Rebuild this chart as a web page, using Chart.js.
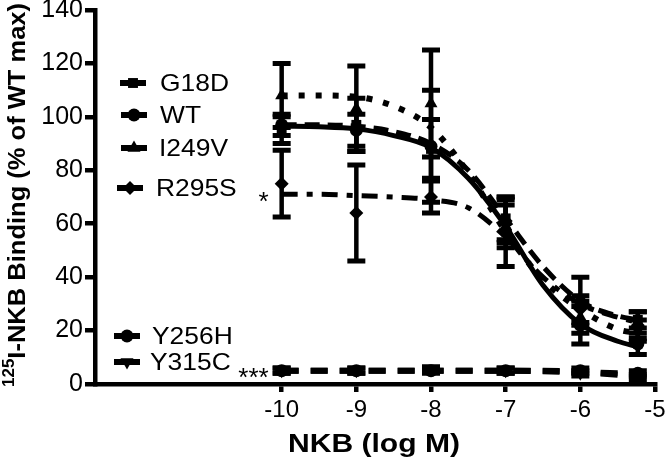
<!DOCTYPE html>
<html>
<head>
<meta charset="utf-8">
<script src="https://cdn.jsdelivr.net/npm/chart.js@4.4.1/dist/chart.umd.min.js"></script>
<style>
  html, body { margin: 0; padding: 0; background: #fff; }
  #wrap { width: 666px; height: 462px; position: relative; }
</style>
</head>
<body>
<div id="wrap"><canvas id="binding"></canvas></div>
<script>
// measured points (log M) and % of WT max, with SEM
const doses = [-10, -9, -8, -7, -6, -5.23];
const g18d = [95, 97, 88, 62, 31, 24];
const g18dErr = [5, 10, 11, 8, 9, 3];
const wt = [97, 95, 89, 57, 22, 15];
const wtErr = [4, 6, 21, 13, 7, 4];
const i249v = [108, 103, 105, 59, 25, 20];
const i249vErr = [12, 16, 20, 8, 6, 4];
const r295s = [75, 64, 70, 61, 28, 22];
const r295sErr = [12.5, 18, 6, 8, 5, 5];
const y256h = [5, 5, 5, 5, 5, 4];
const y256hErr = [1, 1, 1, 1, 1, 1];
const y315c = [5, 5, 5.5, 5, 4, 2.5];
const y315cErr = [1, 1, 1, 1, 1, 1];

// fitted curves at half-log steps
const fitDoses = [-10, -9.5, -9, -8.5, -8, -7.5, -7, -6.5, -6, -5.5, -5.23];
const g18dFit = [97, 97, 96.5, 94.5, 90, 80, 62, 44, 31, 25.5, 24];
const wtFit = [96.5, 96.3, 95.5, 93, 88.5, 77, 59, 37, 22.5, 16, 14];
const i249vFit = [108, 108, 107.5, 104, 96, 79, 57, 39, 28, 20.5, 19];
const r295sFit = [71, 71, 70.5, 70, 69, 66, 55, 40, 30, 25, 23];
const y256hFit = [5, 5, 5, 5, 5, 5, 5, 5, 4.5, 4, 3.5];
const y315cFit = [5, 5, 5, 5, 5, 5, 5, 4.8, 4.3, 3.5, 3];

const xTicks = [-10, -9, -8, -7, -6, -5];

const FONT = "'Liberation Sans', Arial, Helvetica, sans-serif";

const series = [
  { name: 'G18D', pts: g18d, err: g18dErr, fit: g18dFit, style: 'rect', radius: 7, rot: 0, dash: [15, 8], lw: 5 },
  { name: 'WT', pts: wt, err: wtErr, fit: wtFit, style: 'circle', radius: 6.5, rot: 0, dash: [], lw: 5 },
  { name: 'I249V', pts: i249v, err: i249vErr, fit: i249vFit, style: 'triangle', radius: 7.5, rot: 0, dash: [6, 11], lw: 6 },
  { name: 'R295S', pts: r295s, err: r295sErr, fit: r295sFit, style: 'rectRot', radius: 7, rot: 0, dash: [16, 9, 6, 9], lw: 5 },
  { name: 'Y256H', pts: y256h, err: y256hErr, fit: y256hFit, style: 'circle', radius: 6.5, rot: 0, dash: [17, 12], lw: 6 },
  { name: 'Y315C', pts: y315c, err: y315cErr, fit: y315cFit, style: 'triangle', radius: 7.5, rot: 180, dash: [17, 12], lw: 6 }
];

// legend placement inside the plot (pixels)
const legendPos = [
  { mx: 133, y: 83, tx: 160 },
  { mx: 134, y: 115, tx: 160 },
  { mx: 134, y: 148, tx: 159 },
  { mx: 130, y: 188, tx: 156 },
  { mx: 127, y: 336, tx: 152 },
  { mx: 127, y: 362, tx: 150 }
];

const datasets = [];
series.forEach(s => {
  datasets.push({
    type: 'line',
    label: s.name + ' fit',
    data: fitDoses.map((x, i) => ({ x: x, y: s.fit[i] })),
    borderColor: '#000',
    borderWidth: s.lw,
    borderDash: s.dash,
    pointRadius: 0,
    fill: false,
    cubicInterpolationMode: 'monotone',
    clip: false
  });
});
series.forEach(s => {
  datasets.push({
    type: 'scatter',
    label: s.name,
    data: doses.map((x, i) => ({ x: x, y: s.pts[i] })),
    err: s.err,
    showLine: false,
    pointStyle: s.style,
    pointRotation: s.rot,
    pointRadius: s.radius,
    backgroundColor: '#000',
    borderColor: '#000',
    borderWidth: 0,
    clip: false
  });
});

// draw text stretched to a given width
function fitText(ctx, text, x, y, width) {
  const w = ctx.measureText(text).width;
  ctx.save();
  ctx.translate(x, y);
  ctx.scale(width ? width / w : 1, 1);
  ctx.fillText(text, 0, 0);
  ctx.restore();
}

const errorBars = {
  id: 'errorBars',
  beforeDatasetsDraw(chart) {
    const ctx = chart.ctx, xs = chart.scales.x, ys = chart.scales.y;
    ctx.save();
    ctx.strokeStyle = '#000';
    chart.data.datasets.forEach(ds => {
      if (!ds.err) return;
      ds.data.forEach((p, i) => {
        const e = ds.err[i];
        const x = xs.getPixelForValue(p.x);
        const y1 = ys.getPixelForValue(p.y - e);
        const y2 = ys.getPixelForValue(p.y + e);
        ctx.lineWidth = 4.5;
        ctx.beginPath();
        ctx.moveTo(x, y1); ctx.lineTo(x, y2);
        ctx.stroke();
        ctx.lineWidth = 5;
        ctx.beginPath();
        ctx.moveTo(x - 9, y1); ctx.lineTo(x + 9, y1);
        ctx.moveTo(x - 9, y2); ctx.lineTo(x + 9, y2);
        ctx.stroke();
      });
    });
    ctx.restore();
  }
};

const decorations = {
  id: 'decorations',
  afterDraw(chart) {
    const ctx = chart.ctx, xs = chart.scales.x, ys = chart.scales.y;
    ctx.save();
    ctx.fillStyle = '#000';
    ctx.strokeStyle = '#000';

    // legend
    series.forEach((s, i) => {
      const lp = legendPos[i];
      ctx.lineWidth = 6;
      ctx.setLineDash([]);
      ctx.beginPath();
      ctx.moveTo(lp.mx - 13, lp.y); ctx.lineTo(lp.mx + 13, lp.y);
      ctx.stroke();
      Chart.helpers.drawPoint(ctx, { pointStyle: s.style, radius: s.radius, rotation: s.rot, borderWidth: 0 }, lp.mx, lp.y);
      ctx.font = '24px ' + FONT;
      ctx.textBaseline = 'middle';
      ctx.textAlign = 'left';
      const w = ctx.measureText(s.name).width * 1.1;
      fitText(ctx, s.name, lp.tx, lp.y + 1, w);
    });

    // significance marks
    ctx.font = '26px ' + FONT;
    ctx.textAlign = 'right';
    ctx.textBaseline = 'middle';
    const x0 = xs.getPixelForValue(doses[0]) - 13;
    ctx.fillText('*', x0, ys.getPixelForValue(r295sFit[0]) + 8);
    ctx.fillText('***', x0, ys.getPixelForValue(y315cFit[0]) + 8);

    // y axis title with superscript
    ctx.translate(16, 195);
    ctx.rotate(-Math.PI / 2);
    ctx.textAlign = 'left';
    ctx.textBaseline = 'middle';
    const big = 'bold 24px ' + FONT, small = 'bold 16px ' + FONT;
    ctx.font = small;
    const wSup = ctx.measureText('125').width;
    ctx.font = big;
    const rest = 'I-NKB Binding (% of WT max)';
    const wRest = ctx.measureText(rest).width;
    const k = 384 / (wSup + wRest);
    ctx.scale(k, 1);
    const start = -(wSup + wRest) / 2;
    ctx.font = small;
    ctx.fillText('125', start, -6);
    ctx.font = big;
    ctx.fillText(rest, start + wSup, 2);
    ctx.restore();

    // x axis title
    ctx.save();
    ctx.font = 'bold 26px ' + FONT;
    ctx.textAlign = 'left';
    ctx.textBaseline = 'alphabetic';
    fitText(ctx, 'NKB (log M)', 288, 452, 172);
    ctx.restore();
  }
};

Chart.defaults.font.family = FONT;
Chart.defaults.color = '#000';

new Chart(document.getElementById('binding'), {
  type: 'scatter',
  data: { datasets: datasets },
  options: {
    responsive: true,
    maintainAspectRatio: false,
    animation: false,
    layout: { padding: { top: 10, right: 11, left: 0, bottom: 0 } },
    plugins: { legend: { display: false }, tooltip: { enabled: false } },
    scales: {
      x: {
        type: 'linear',
        min: -12.5,
        max: -5,
        afterBuildTicks: s => { s.ticks = xTicks.map(v => ({ value: v })); },
        afterFit: s => { s.height = 78; s.paddingLeft = 0; s.paddingRight = 0; },
        border: { display: true, color: '#000', width: 4.5 },
        grid: { display: true, drawOnChartArea: false, drawTicks: true, tickLength: 8, lineWidth: 4.5, color: '#000' },
        ticks: { font: { size: 24 }, padding: 4, maxRotation: 0, autoSkip: false, callback: v => String(v) }
      },
      y: {
        min: 0,
        max: 140,
        afterFit: s => { s.width = 95; s.paddingTop = 0; s.paddingBottom = 0; },
        border: { display: true, color: '#000', width: 4.5 },
        grid: { display: true, drawOnChartArea: false, drawTicks: true, tickLength: 10, lineWidth: 4.5, color: '#000' },
        ticks: { stepSize: 20, font: { size: 25 }, padding: 2 }
      }
    }
  },
  plugins: [errorBars, decorations]
});
</script>
</body>
</html>
